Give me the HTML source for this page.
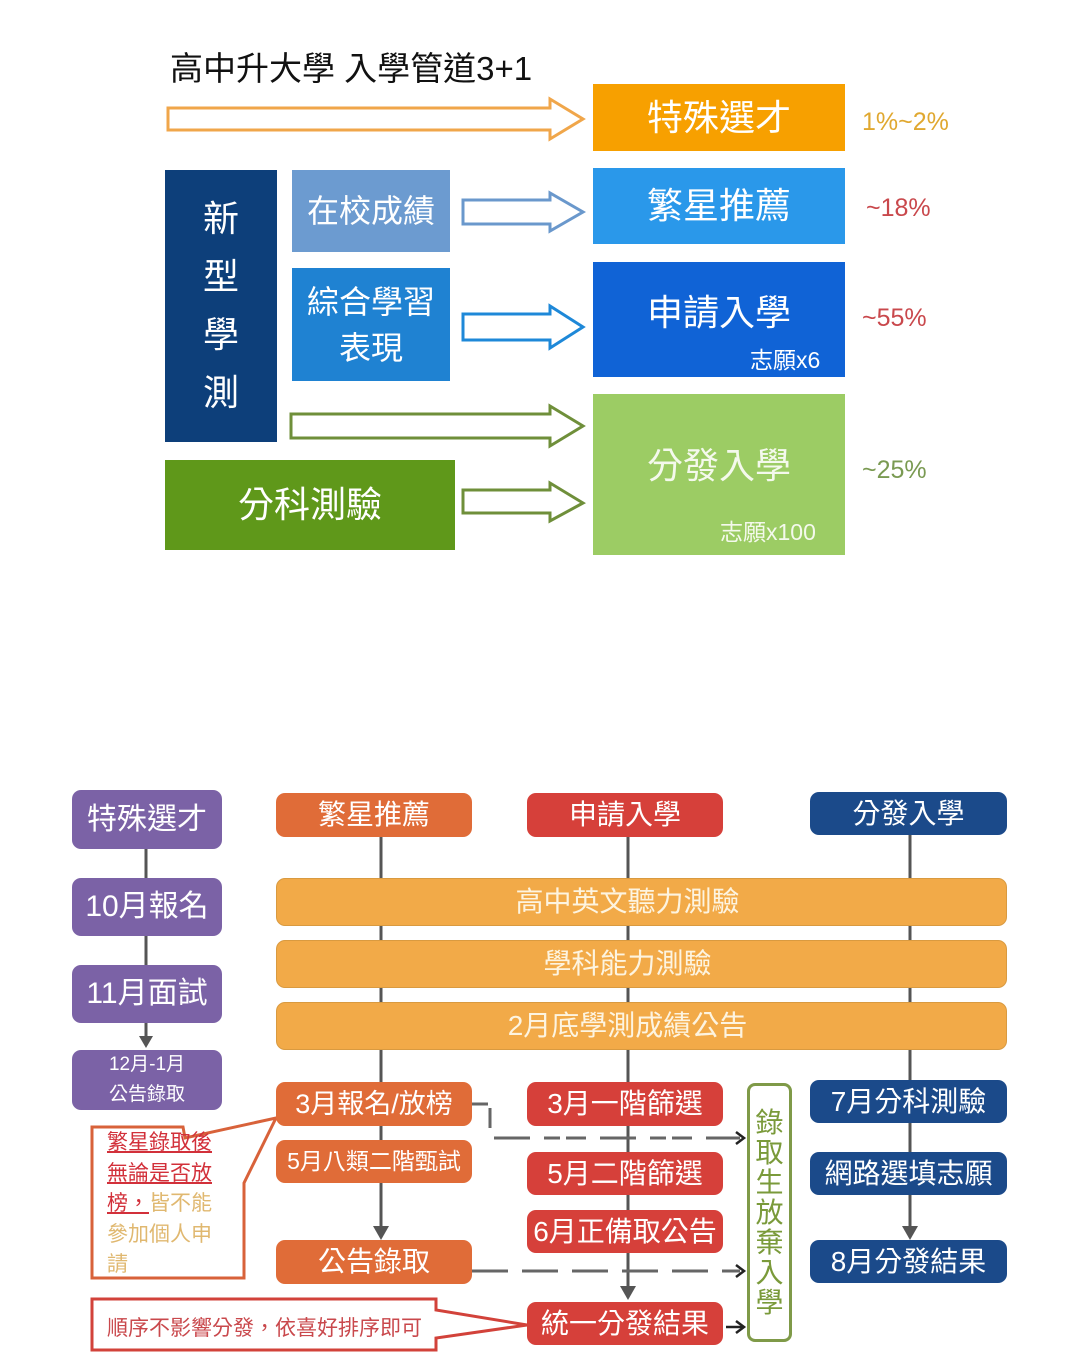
<!DOCTYPE html>
<html><head><meta charset="utf-8"><style>
body{margin:0;width:1080px;height:1370px;background:#fff;position:relative;overflow:hidden;font-family:"Liberation Sans","Noto Sans CJK TC",sans-serif}
.b{position:absolute;display:flex;align-items:center;justify-content:center;color:#fff;box-sizing:border-box;text-align:center;line-height:1.2}
.r{border-radius:9px}
.t{position:absolute;white-space:nowrap}
svg{position:absolute;left:0;top:0}
</style></head><body>
<div class="t" style="left:170px;top:42px;font-size:33px;color:#111">高中升大學 入學管道3+1</div>

<svg width="1080" height="1370">
<g fill="none" stroke-width="3" stroke-linejoin="miter">
<polygon points="168,108 550,108 550,99 583,119 550,139 550,130 168,130" stroke="#f0a64a"/>
<polygon points="463,200 550,200 550,193 583,212 550,231 550,224 463,224" stroke="#6a98cc"/>
<polygon points="463,314 550,314 550,306 583,327 550,348 550,340 463,340" stroke="#1e88d8"/>
<polygon points="291,414 550,414 550,406 583,426 550,446 550,438 291,438" stroke="#6f8f3a"/>
<polygon points="463,490 550,490 550,483 583,503 550,521 550,513 463,513" stroke="#6f8f3a"/>
</g>
<g stroke="#555" stroke-width="3">
<line x1="146" y1="849" x2="146" y2="1040"/>
<line x1="381" y1="837" x2="381" y2="1228"/>
<line x1="628" y1="837" x2="628" y2="1288"/>
<line x1="910" y1="835" x2="910" y2="1228"/>
</g>
<g fill="#555">
<polygon points="139,1036 153,1036 146,1048"/>
<polygon points="373,1226 389,1226 381,1240"/>
<polygon points="620,1286 636,1286 628,1300"/>
<polygon points="902,1226 918,1226 910,1240"/>
</g>
<g stroke="#666" stroke-width="3" fill="none" stroke-dasharray="36,14">
<polyline points="472,1104 490,1104 490,1138 740,1138" stroke-dasharray="16,6,20,14,36,14"/>
<line x1="472" y1="1271" x2="740" y2="1271"/>
</g>
<g stroke="#222" stroke-width="2.5" fill="none">
<polyline points="736,1132 744,1138 736,1144"/>
<polyline points="736,1265 744,1271 736,1277"/>
<line x1="726" y1="1327" x2="744" y2="1327"/>
<polyline points="736,1321 744,1327 736,1333"/>
</g>
<path d="M92,1127 L183,1127 L185,1138 L276,1118 L244,1183 L244,1278 L92,1278 Z" fill="#fff" stroke="#d8623a" stroke-width="3"/>
<path d="M92,1299 L436,1299 L436,1310 L527,1325 L436,1338 L436,1350 L92,1350 Z" fill="#fff" stroke="#d2423a" stroke-width="3"/>
</svg>

<div class="b" style="left:593px;top:84px;width:252px;height:67px;background:#f7a000;font-size:36px">特殊選才</div>
<div class="t" style="left:862px;top:108px;font-size:25px;color:#e0a830">1%~2%</div>
<div class="b" style="left:165px;top:170px;width:112px;height:272px;background:#0d3f7a;font-size:36px;line-height:58px">新<br>型<br>學<br>測</div>
<div class="b" style="left:292px;top:170px;width:158px;height:82px;background:#6c9bd0;font-size:32px">在校成績</div>
<div class="b" style="left:593px;top:168px;width:252px;height:76px;background:#2a98ea;font-size:36px">繁星推薦</div>
<div class="t" style="left:866px;top:194px;font-size:25px;color:#c9484c">~18%</div>
<div class="b" style="left:292px;top:268px;width:158px;height:113px;background:#1f82d2;font-size:32px;line-height:46px">綜合學習<br>表現</div>
<div class="b" style="left:593px;top:262px;width:252px;height:115px;background:#1063d6;font-size:36px;padding-bottom:14px">申請入學</div>
<div class="t" style="left:750px;top:341px;font-size:23px;color:#fff">志願x6</div>
<div class="t" style="left:862px;top:304px;font-size:25px;color:#c9484c">~55%</div>
<div class="b" style="left:593px;top:394px;width:252px;height:161px;background:#9ccc64;font-size:36px;padding-bottom:18px;color:#f4f9ec">分發入學</div>
<div class="t" style="left:720px;top:513px;font-size:23px;color:#f4f9ec">志願x100</div>
<div class="t" style="left:862px;top:456px;font-size:25px;color:#7a9a52">~25%</div>
<div class="b" style="left:165px;top:460px;width:290px;height:90px;background:#5f981a;font-size:36px">分科測驗</div>

<div class="b r" style="left:72px;top:790px;width:150px;height:59px;background:#7b62a6;font-size:30px">特殊選才</div>
<div class="b r" style="left:72px;top:878px;width:150px;height:58px;background:#7b62a6;font-size:30px">10月報名</div>
<div class="b r" style="left:72px;top:965px;width:150px;height:58px;background:#7b62a6;font-size:30px">11月面試</div>
<div class="b r" style="left:72px;top:1050px;width:150px;height:60px;background:#7b62a6;font-size:19px;line-height:30px">12月-1月<br>公告錄取</div>

<div class="b r" style="left:276px;top:793px;width:196px;height:44px;background:#e06c38;font-size:28px">繁星推薦</div>
<div class="b r" style="left:527px;top:793px;width:196px;height:44px;background:#d6403a;font-size:28px">申請入學</div>
<div class="b r" style="left:810px;top:792px;width:197px;height:43px;background:#1b4a8a;font-size:28px">分發入學</div>

<div class="b r" style="left:276px;top:878px;width:731px;height:48px;background:#f2aa48;border:1px solid #d99a40;font-size:28px;color:#fdf4e0;padding-right:28px">高中英文聽力測驗</div>
<div class="b r" style="left:276px;top:940px;width:731px;height:48px;background:#f2aa48;border:1px solid #d99a40;font-size:28px;color:#fdf4e0;padding-right:28px">學科能力測驗</div>
<div class="b r" style="left:276px;top:1002px;width:731px;height:48px;background:#f2aa48;border:1px solid #d99a40;font-size:28px;color:#fdf4e0;padding-right:28px">2月底學測成績公告</div>

<div class="b r" style="left:276px;top:1082px;width:196px;height:44px;background:#e06c38;font-size:27px">3月報名/放榜</div>
<div class="b r" style="left:276px;top:1140px;width:196px;height:43px;background:#e06c38;font-size:23px">5月八類二階甄試</div>
<div class="b r" style="left:276px;top:1240px;width:196px;height:44px;background:#e06c38;font-size:28px">公告錄取</div>

<div class="b r" style="left:527px;top:1082px;width:196px;height:44px;background:#d6403a;font-size:28px">3月一階篩選</div>
<div class="b r" style="left:527px;top:1152px;width:196px;height:43px;background:#d6403a;font-size:28px">5月二階篩選</div>
<div class="b r" style="left:527px;top:1210px;width:196px;height:43px;background:#d6403a;font-size:28px">6月正備取公告</div>
<div class="b r" style="left:527px;top:1302px;width:196px;height:43px;background:#d6403a;font-size:28px">統一分發結果</div>

<div class="b" style="left:747px;top:1083px;width:45px;height:259px;border:3px solid #7f9a48;border-radius:8px;color:#7a9a3a;font-size:28px;line-height:30px">錄<br>取<br>生<br>放<br>棄<br>入<br>學</div>

<div class="b r" style="left:810px;top:1080px;width:197px;height:43px;background:#1b4a8a;font-size:28px">7月分科測驗</div>
<div class="b r" style="left:810px;top:1152px;width:197px;height:43px;background:#1b4a8a;font-size:28px">網路選填志願</div>
<div class="b r" style="left:810px;top:1240px;width:197px;height:43px;background:#1b4a8a;font-size:28px">8月分發結果</div>

<div class="t" style="left:107px;top:1128px;font-size:21px;line-height:30.5px;color:#d2303a;white-space:normal;width:115px">
<span style="text-decoration:underline">繁星錄取後無論是否放榜，</span><span style="color:#e0b870">皆不能參加個人申請</span></div>
<div class="t" style="left:107px;top:1312px;font-size:21px;color:#c9484c">順序不影響分發，依喜好排序即可</div>
</body></html>
